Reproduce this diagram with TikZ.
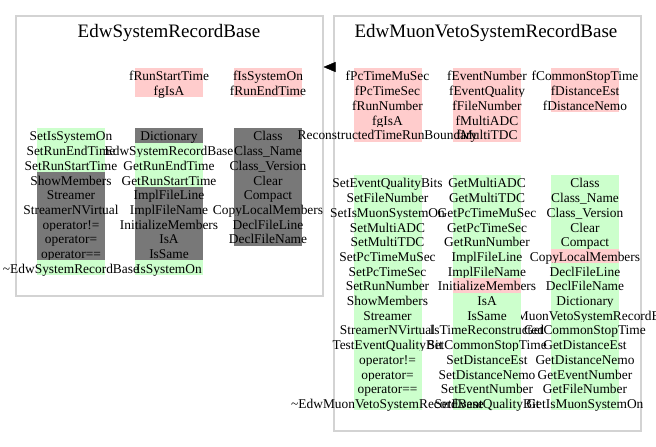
\documentclass[tikz,border=0pt]{standalone}
\usepackage{fontspec}
\setmainfont{Liberation Serif}
\usetikzlibrary{arrows.meta}

\definecolor{pubgreen}{RGB}{204,255,204}
\definecolor{protpink}{RGB}{255,204,204}
\definecolor{inhgray}{RGB}{120,120,120}
\definecolor{framegray}{RGB}{211,211,211}

% one column of members: name prefix, centre x, top y, colour/entry list
\newcommand{\membercol}[4]{%
  \foreach \col/\entry [count=\i] in {#4} {
    \fill[\col] (#2-34, #3+14.7*\i-14.7) rectangle (#2+34, #3+14.7*\i);
    \node[member] (#1-\i) at (#2, #3+14.7*\i-1.8) {\entry};
  }%
}

\begin{document}
\begin{tikzpicture}[x=1pt, y=-1pt,
    frame/.style={draw=framegray, line width=1.5pt, inner sep=0pt, anchor=north west},
    title/.style={font=\fontsize{19}{21}\selectfont, inner sep=0pt, anchor=base},
    member/.style={font=\fontsize{13.4}{14}\selectfont, inner sep=0pt, anchor=base}]
    \useasboundingbox (0,0) rectangle (656,447);

    \node[frame, minimum width=307pt, minimum height=280pt] (sysbase) at (15,15) {};
    \node[frame, minimum width=307pt, minimum height=415pt] (vetobase) at (333,15) {};

    \node[title] (systitle) at (169,37) {EdwSystemRecordBase};
    \node[title] (vetotitle) at (486,37) {EdwMuonVetoSystemRecordBase};

    % EdwSystemRecordBase
    \membercol{sysd3}{268}{68}{protpink/fIsSystemOn, protpink/fRunEndTime}
    \membercol{sysd2}{169}{68}{protpink/fRunStartTime, protpink/fgIsA}

    \membercol{sysm3}{268}{128}{inhgray/Class, inhgray/Class\_Name, inhgray/Class\_Version,
      inhgray/Clear, inhgray/Compact, inhgray/CopyLocalMembers, inhgray/DeclFileLine,
      inhgray/DeclFileName}
    \membercol{sysm2}{169}{128}{inhgray/Dictionary, pubgreen/EdwSystemRecordBase,
      pubgreen/GetRunEndTime, pubgreen/GetRunStartTime, inhgray/ImplFileLine,
      inhgray/ImplFileName, inhgray/InitializeMembers, inhgray/IsA, inhgray/IsSame,
      pubgreen/IsSystemOn}
    \membercol{sysm1}{71}{128}{pubgreen/SetIsSystemOn, pubgreen/SetRunEndTime,
      pubgreen/SetRunStartTime, inhgray/ShowMembers, inhgray/Streamer,
      inhgray/StreamerNVirtual, inhgray/operator!=, inhgray/operator=, inhgray/operator==,
      pubgreen/\textasciitilde EdwSystemRecordBase}

    % EdwMuonVetoSystemRecordBase
    \membercol{vetod3}{585}{68}{protpink/fCommonStopTime, protpink/fDistanceEst,
      protpink/fDistanceNemo}
    \membercol{vetod2}{487}{68}{protpink/fEventNumber, protpink/fEventQuality,
      protpink/fFileNumber, protpink/fMultiADC, protpink/fMultiTDC}
    \membercol{vetod1}{387.5}{68}{protpink/fPcTimeMuSec, protpink/fPcTimeSec,
      protpink/fRunNumber, protpink/fgIsA, protpink/ReconstructedTimeRunBoundary}

    \membercol{vetom3}{585}{175}{pubgreen/Class, pubgreen/Class\_Name, pubgreen/Class\_Version,
      pubgreen/Clear, pubgreen/Compact, protpink/CopyLocalMembers, pubgreen/DeclFileLine,
      pubgreen/DeclFileName, pubgreen/Dictionary, pubgreen/EdwMuonVetoSystemRecordBase,
      pubgreen/GetCommonStopTime, pubgreen/GetDistanceEst, pubgreen/GetDistanceNemo,
      pubgreen/GetEventNumber, pubgreen/GetFileNumber, pubgreen/GetIsMuonSystemOn}
    \membercol{vetom2}{487}{175}{pubgreen/GetMultiADC, pubgreen/GetMultiTDC,
      pubgreen/GetPcTimeMuSec, pubgreen/GetPcTimeSec, pubgreen/GetRunNumber,
      pubgreen/ImplFileLine, pubgreen/ImplFileName, protpink/InitializeMembers,
      pubgreen/IsA, pubgreen/IsSame, pubgreen/IsTimeReconstructed,
      pubgreen/SetCommonStopTime, pubgreen/SetDistanceEst, pubgreen/SetDistanceNemo,
      pubgreen/SetEventNumber, pubgreen/SetEventQualityBit}
    \membercol{vetom1}{387.5}{175}{pubgreen/SetEventQualityBits, pubgreen/SetFileNumber,
      pubgreen/SetIsMuonSystemOn, pubgreen/SetMultiADC, pubgreen/SetMultiTDC,
      pubgreen/SetPcTimeMuSec, pubgreen/SetPcTimeSec, pubgreen/SetRunNumber,
      pubgreen/ShowMembers, pubgreen/Streamer, pubgreen/StreamerNVirtual,
      pubgreen/TestEventQualityBit, pubgreen/operator!=, pubgreen/operator=,
      pubgreen/operator==, pubgreen/\textasciitilde EdwMuonVetoSystemRecordBase}

    % inheritance
    \coordinate (arrowrow) at (0,67);
    \draw[-{Triangle[length=12pt,width=10pt]}] (vetobase.west |- arrowrow) -- (sysbase.east |- arrowrow);

  \end{tikzpicture}
\end{document}
